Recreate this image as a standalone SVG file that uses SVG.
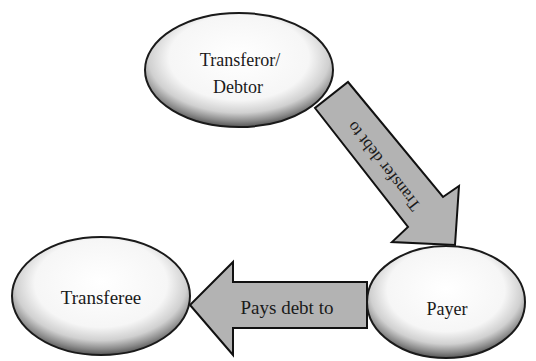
<svg xmlns="http://www.w3.org/2000/svg" width="536" height="361" viewBox="0 0 536 361">
<defs>
<radialGradient id="g" cx="0.5" cy="0.4" r="0.6" fx="0.5" fy="0.38">
<stop offset="0" stop-color="#ffffff"/>
<stop offset="0.62" stop-color="#f6f6f6"/>
<stop offset="0.8" stop-color="#d0d0d0"/>
<stop offset="0.92" stop-color="#8a8a8a"/>
<stop offset="1" stop-color="#555555"/>
</radialGradient>
<style>
.node{fill:url(#g);stroke:#1a1a1a;stroke-width:2}
.arr{fill:#b3b3b3;stroke:#111;stroke-width:2;stroke-linejoin:miter}
.t{font-family:"Liberation Serif","Times New Roman",serif;fill:#1a1a1a;text-anchor:middle}
</style>
</defs>
<rect width="536" height="361" fill="#fff"/>
<g id="connectors">
<g id="arrow-transfer">
<polygon class="arr" points="348,82 443,197 459,186 455,245 392,242 408,227 315,108"/>
<text class="t" font-family="Liberation Serif, serif" font-size="17" transform="translate(384,166) rotate(232)" dy="5">Transfer debt to</text>
</g>
<g id="arrow-pays">
<polygon class="arr" points="367,282 233,282 233,262 190,305 233,355 233,328 367,328"/>
<text class="t" font-family="Liberation Serif, serif" x="287" y="314" font-size="19">Pays debt to</text>
</g>
</g>
<g id="node-transferor">
<ellipse class="node" cx="239" cy="70" rx="94" ry="57"/>
<text class="t" font-family="Liberation Serif, serif" x="240" y="66" font-size="18">Transferor/</text>
<text class="t" font-family="Liberation Serif, serif" x="238" y="93" font-size="18">Debtor</text>
</g>
<g id="node-transferee">
<ellipse class="node" cx="101" cy="296" rx="89" ry="59"/>
<text class="t" font-family="Liberation Serif, serif" x="101" y="304" font-size="19">Transferee</text>
</g>
<g id="node-payer">
<ellipse class="node" cx="446" cy="302" rx="79" ry="56"/>
<text class="t" font-family="Liberation Serif, serif" x="447" y="315" font-size="18">Payer</text>
</g>
</svg>
